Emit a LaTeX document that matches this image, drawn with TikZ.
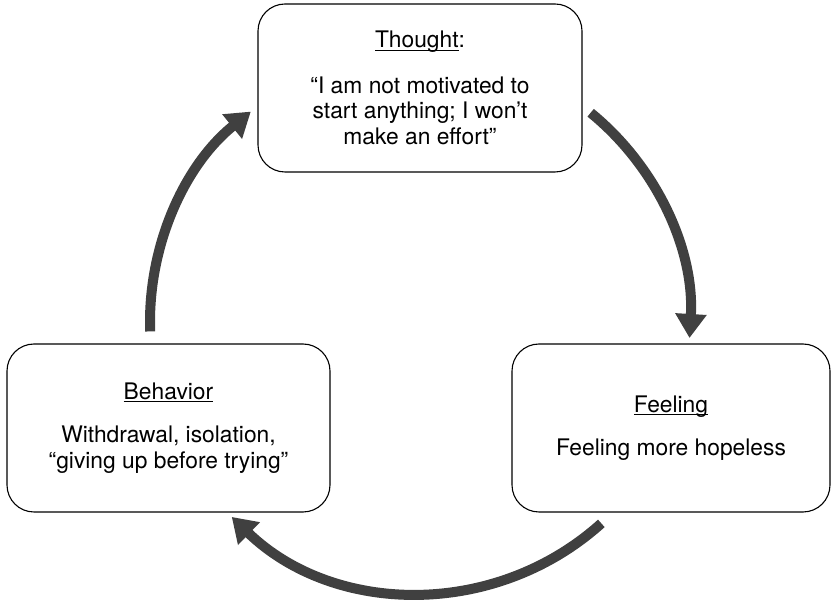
\documentclass[tikz,border=0pt]{standalone}
\usepackage{fontspec}
\setmainfont{TeX Gyre Heros}
\usetikzlibrary{arrows.meta}
\definecolor{arrowgray}{HTML}{404040}
\newcommand\myul[1]{\begingroup\setbox0\hbox{#1}\rlap{\rule[-3pt]{\wd0}{0.9pt}}\box0\endgroup}
\begin{document}
\begin{tikzpicture}[x=1pt,y=1pt,
  box/.style={draw, line width=1.1pt, rounded corners=27pt, align=center,
    inner sep=0pt, minimum height=168pt, font=\fontsize{22.8}{25.5}\selectfont},
  cyc/.style={draw=arrowgray, line width=10pt, -{Triangle[width=30pt,length=24pt]}}]
\useasboundingbox (0,0) rectangle (831,600);
\node[box, minimum width=324pt] (thought) at (420,512)
  {\myul{Thought}:\\[20pt]“I am not motivated to\\start anything; I won’t\\make an effort”};
\node[box, minimum width=323pt] (behavior) at (168.5,172)
  {\myul{Behavior}\\[18pt]Withdrawal, isolation,\\“giving up before trying”};
\node[box, minimum width=318pt] (feeling) at (671,172)
  {\myul{Feeling}\\[18pt]Feeling more hopeless};
\coordinate (c) at (420,278);
\coordinate (t1) at ([shift={(50.8:270pt)}]c);
\coordinate (t2) at ([shift={(-48:271pt)}]c);
\coordinate (t3) at ([shift={(182:270pt)}]c);
\draw[cyc] (t1) arc[start angle=50.8, end angle=-3.4, radius=270pt];
\draw[cyc] (t2) arc[start angle=-48, end angle=-134, radius=271pt];
\draw[cyc] (t3) arc[start angle=182, end angle=128.8, radius=270pt];
\end{tikzpicture}
\end{document}
